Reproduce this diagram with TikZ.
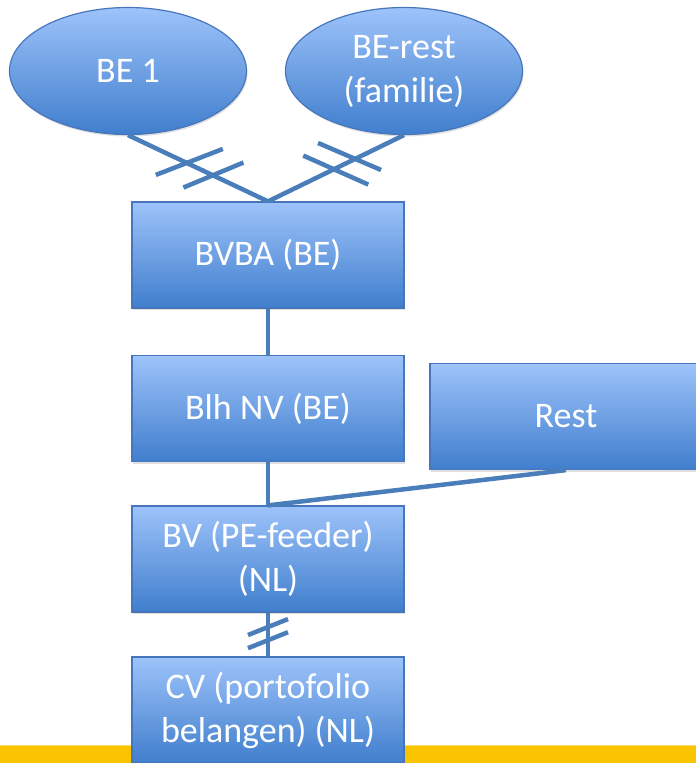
\documentclass[tikz,border=0pt]{standalone}
\usepackage{fontspec}
\setmainfont{Carlito}
\usepackage{tikz}
\usetikzlibrary{shapes,shadows,positioning}
\definecolor{boxtop}{RGB}{157,195,250}
\definecolor{boxbot}{RGB}{64,126,205}
\definecolor{boxline}{RGB}{72,118,188}
\definecolor{linkblue}{RGB}{74,126,187}
\definecolor{barYellow}{RGB}{251,196,0}

\begin{document}
\begin{tikzpicture}[x=1pt,y=-1pt,
  entity/.style={draw=boxline,line width=1.2pt,top color=boxtop,bottom color=boxbot,
    text=white,font=\fontsize{36}{44}\selectfont,align=center,inner sep=0pt,
    drop shadow={shadow xshift=1pt,shadow yshift=-2pt,opacity=0.25}},
  unit/.style={entity,rectangle,minimum width=272pt,minimum height=106pt},
  owner/.style={entity,ellipse,minimum width=237pt,minimum height=127pt},
  link/.style={draw=linkblue,line width=4.5pt}]
\useasboundingbox (0,0) rectangle (696,763);
\fill[barYellow] (0,745) rectangle (696,763);
\draw[line width=1pt,color=barYellow!60!white] (0,745.5) -- (696,745.5);
\node[owner] (be1) at (128,71) {BE 1};
\node[owner] (berest) at (404,71) {BE-rest\\(familie)};
\node[unit] (bvba) at (268,255) {BVBA (BE)};
\node[unit] (blh) at (268,408.5) {Blh NV (BE)};
\node[unit] (rest) at (566,416.5) {Rest};
\node[unit] (bv) at (268,559) {BV (PE-feeder)\\(NL)};
\node[unit] (cv) at (268,710) {CV (portofolio\\belangen) (NL)};
\draw[link] (be1.south) -- coordinate[pos=0.42] (t1) coordinate[pos=0.61] (t2) (bvba.north);
\draw[link] (berest.south) -- coordinate[pos=0.36] (t3) coordinate[pos=0.52] (t4) (bvba.north);
\draw[link] (t1) ++(-31,12) -- ++(67,-26);
\draw[link] (t2) ++(-30,12) -- ++(60,-25);
\draw[link] (t3) ++(-37,-16) -- ++(63,27);
\draw[link] (t4) ++(-30,-14) -- ++(65,29);
\draw[link] (bvba.south) -- (blh.north);
\draw[link] (blh.south) -- (bv.north);
\draw[link] (rest.south) -- (bv.north);
\draw[link] (bv.south) -- coordinate[pos=0.33] (t5) coordinate[pos=0.63] (t6) (cv.north);
\draw[link] (t5) ++(-20,8) -- ++(40,-16);
\draw[link] (t6) ++(-20,8) -- ++(40,-16);
\end{tikzpicture}
\end{document}
